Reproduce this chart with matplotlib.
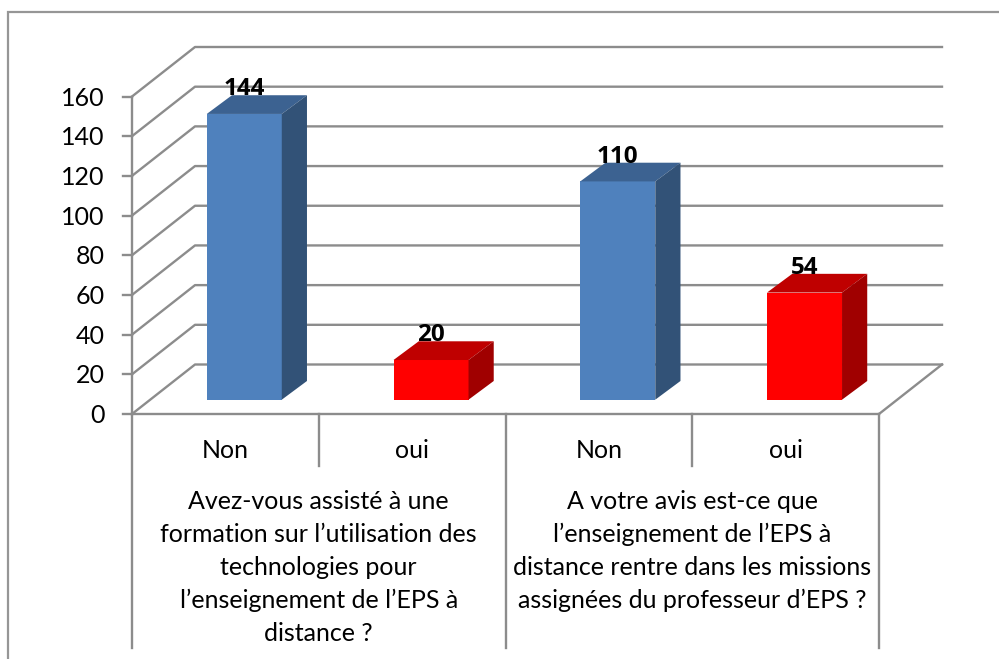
import numpy as np
import matplotlib
matplotlib.use("Agg")
import matplotlib.pyplot as plt
from matplotlib.patches import Polygon

plt.rcParams['font.family'] = ['Lato', 'DejaVu Sans']

# valeurs
categories = ["Non", "oui", "Non", "oui"]
values = [144, 20, 110, 54]
front_colors = ["#4f81bd", "#ff0000", "#4f81bd", "#ff0000"]
top_colors = ["#3c6291", "#bf0000", "#3c6291", "#bf0000"]
side_colors = ["#325277", "#a00000", "#325277", "#a00000"]
yticks = [0, 20, 40, 60, 80, 100, 120, 140, 160]
groups = [
    "Avez-vous assisté à une\nformation sur l’utilisation des\ntechnologies pour\nl’enseignement de l’EPS à\ndistance ?",
    "A votre avis est-ce que\nl’enseignement de l’EPS à\ndistance rentre dans les missions\nassignées du professeur d’EPS ?",
]

W, H = 999, 659
grid = "#8c8c8c"
fig = plt.figure(figsize=(W / 100, H / 100), dpi=100)

# cadre du graphique (coupe en bas et a droite)
bg = fig.add_axes([0, 0, 1, 1])
bg.set_xlim(0, W)
bg.set_ylim(H, 0)
bg.axis("off")
bg.plot([8, 8, W], [658, 12, 12], color="#969696", lw=1.6, solid_joinstyle="miter")

# axes = plan avant du graphique 3D
x0, x1, y0, y1 = 132, 879, 414, 96.5
ax = fig.add_axes([x0 / W, 1 - y0 / H, (x1 - x0) / W, (y0 - y1) / H])
ax.set_xlim(0, 4)
ax.set_ylim(0, 160)
ax.axis("off")

# conversion pixels -> donnees
px_x = 4 / (x1 - x0)
px_y = 160 / (y0 - y1)
dx = 63 * px_x
dy = 49.5 * px_y
lw = 1.7

for v in yticks:
    ax.plot([0, dx, 4 + dx], [v, v + dy, v + dy], color=grid, lw=lw, clip_on=False, zorder=1)
    ax.plot([-9 * px_x, 0], [v, v], color=grid, lw=lw, clip_on=False, zorder=1)
ax.plot([4, 4 + dx], [0, dy], color=grid, lw=lw, clip_on=False, zorder=1)
ax.plot([0, 4], [0, 0], color=grid, lw=lw, clip_on=False, zorder=1)
ax.plot([0, 0], [0, 160], color=grid, lw=lw, clip_on=False, zorder=1)

for v in yticks:
    ax.annotate(str(v), (0, v), xytext=(-19.5, -1.2), textcoords="offset points",
                ha="right", va="center", fontsize=18, color="black")

# separateurs sous l'axe
below_short = -(466 - y0) * px_y
below_long = -(647.5 - y0) * px_y
for x, low in [(0, below_long), (1, below_short), (2, below_long), (3, below_short), (4, below_long)]:
    ax.plot([x, x], [0, low], color=grid, lw=lw, clip_on=False, zorder=1)

# barres 3D
bar_w = 75 * px_x
depth_x = 0.4
depth_y = 0.378
floor_x = 0.30
floor_y = 0.289
for i, v in enumerate(values):
    xa = i + 0.5 - bar_w / 2 + floor_x * dx
    xb = xa + bar_w
    ya = floor_y * dy
    yb = v + floor_y * dy
    ox, oy = depth_x * dx, depth_y * dy
    ax.add_patch(Polygon([(xa, ya), (xb, ya), (xb, yb), (xa, yb)], fc=front_colors[i], ec="none", clip_on=False, zorder=3))
    ax.add_patch(Polygon([(xa, yb), (xb, yb), (xb + ox, yb + oy), (xa + ox, yb + oy)], fc=top_colors[i], ec="none", clip_on=False, zorder=3))
    ax.add_patch(Polygon([(xb, ya), (xb + ox, ya + oy), (xb + ox, yb + oy), (xb, yb)], fc=side_colors[i], ec="none", clip_on=False, zorder=3))
    ax.text(xa + bar_w / 2, yb + oy + 6 * px_y, str(v), ha="center", va="center", fontsize=17.5,
            fontweight="bold", family=["Open Sans", "DejaVu Sans"], color="black", zorder=4)

# libelles des categories
lab_y = -(451 - y0) * px_y
for i, c in enumerate(categories):
    ax.text(i + 0.5, lab_y, c, ha="center", va="center", fontsize=18, color="black", clip_on=False)

grp_y = -(490 - y0) * px_y
for i, g in enumerate(groups):
    ax.text(2 * i + 1, grp_y, g, ha="center", va="top", fontsize=18, color="black",
            linespacing=1.515, clip_on=False)

fig.savefig("out.png", dpi=100)
